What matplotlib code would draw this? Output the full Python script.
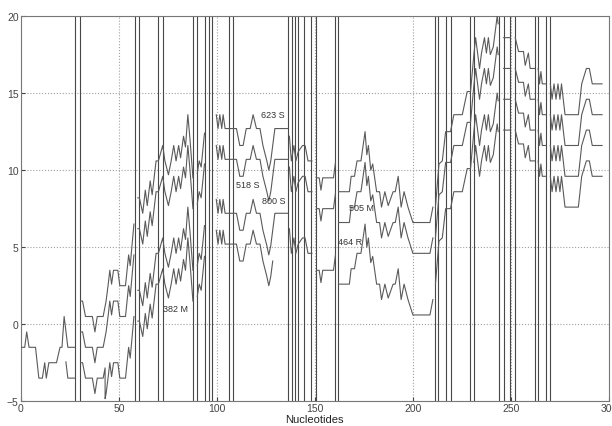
import matplotlib
matplotlib.use("Agg")
import matplotlib.pyplot as plt
import numpy as np

plt.rcParams['font.family'] = ['Liberation Sans', 'DejaVu Sans']

# cumulative walk, vertex by vertex (x in nucleotides, y in walk units)
walk_x = [0.5, 2, 3, 4.2, 7.5, 9.2, 11, 12.2, 13, 14.3, 18.2, 20, 21, 22.1, 24, 27.5,
          30.5, 31.5, 33, 36.5, 37.8, 39, 42, 43.5, 44.5, 45.4, 46.3, 47.3, 49.5, 50.5, 53.4, 55, 55.8, 57.7,
          59.7, 60.5, 62.2, 63.5, 64.5, 66, 67, 69, 70.2, 72.4, 73.5, 75.3, 76.7, 78, 79.2, 80.5, 81.5, 83, 84, 85.2, 86.3, 87.8,
          90, 91, 92, 93.7,
          99.7, 100.6, 101.5, 102.5, 103.2, 104.2, 110, 111.7, 113.4, 115, 117, 118.5, 120.2, 122, 123.5, 125.5, 126.5, 127.5, 128.5, 129.6, 136.2,
          137, 138, 139.3, 140.3, 141.5, 143.7, 145, 146.5, 148.5,
          150.8, 152.2, 153.1, 154, 159.5, 160.5,
          162.1, 167.6, 168.5, 170.2, 171.5, 173.5, 175.6, 176.5, 177.3, 178.5, 179.5, 181.5, 183, 184, 185.7, 187.4, 189.9, 191, 192.5, 194, 195.5, 197.5, 200, 208.7, 210.2,
          211.5, 213.3, 215, 216.7, 219.2, 220.9, 225.2, 227.7, 229.4, 231.1, 232, 233, 234, 235, 236.5, 237.5, 238.5, 239.5, 241, 242, 243, 243.5,
          246.3, 249.7,
          252.2, 253.9, 256.4, 257.3, 258.9, 259.8, 262,
          263.9, 264.6, 265.3, 266, 267.8,
          270.1, 271, 272, 273, 274, 275, 275.8, 277.6, 284.4, 286.1, 288.5, 290, 291.5, 296.5]
walk_y = [-1.5, -1.5, -0.5, -1.5, -1.5, -3.5, -3.5, -2.5, -3.5, -2.5, -2.5, -1.5, -1.5, 0.5, -1.5, -1.5,
          1.5, 1.5, 0.5, 0.5, -0.5, 0.5, 0.5, 1.5, 2.5, 3.5, 2.6, 3.5, 3.5, 2.5, 2.5, 4.5, 3.8, 6.5,
          8.2, 8.2, 7.2, 8.7, 7.7, 9.3, 8.4, 10.6, 10.6, 11.6, 10.6, 9.7, 10.6, 11.6, 10.6, 11.6, 10.8, 12.2, 11.5, 13.6, 12.0, 9.5,
          9.8, 10.6, 10.2, 12.4,
          13.6, 12.7, 13.6, 12.7, 13.6, 12.7, 12.7, 11.6, 11.6, 12.7, 12.7, 13.6, 12.7, 12.7, 11.6, 10.6, 10.0, 10.6, 11.6, 12.7, 12.7,
          12.2, 10.6, 11.6, 10.6, 11.2, 11.6, 11.6, 10.6, 10.6,
          9.5, 9.5, 8.7, 9.5, 9.5, 10.5,
          8.6, 8.6, 9.6, 9.6, 10.6, 10.6, 12.5, 11.0, 11.6, 10.0, 10.4, 8.6, 8.6, 7.6, 8.6, 7.7, 8.6, 8.6, 9.6, 7.6, 8.6, 7.6, 6.6, 6.6, 7.6,
          7.6, 10.4, 10.6, 12.5, 12.5, 13.6, 13.6, 15.1, 15.1, 17.5, 18.6, 17.6, 16.6, 17.6, 18.6, 17.6, 18.6, 17.5, 18.0, 19.0, 20.0, 19.5,
          18.6, 18.6,
          18.6, 17.7, 17.7, 16.8, 17.6, 16.6, 16.6,
          16.6, 15.6, 16.4, 15.6, 15.6,
          15.6, 14.6, 15.6, 14.6, 15.6, 14.6, 15.6, 13.6, 13.6, 15.6, 16.6, 16.6, 15.6, 15.6]

# each sequence: (start, end, level shift) pieces along the walk
seq_1 = [(0.5, 27.5, 0), (30.5, 57.7, 0), (59.7, 87.8, 0), (90, 93.7, 0), (99.7, 136.2, 0),
         (137, 148.5, 0), (150.8, 160.5, 0), (162.1, 210.2, 0), (211.5, 243.5, 0),
         (246.3, 249.7, 0), (252.2, 262, 0), (263.9, 267.8, 0), (270.1, 296.5, 0)]
seq_2 = [(23, 27.5, -2), (30.5, 57.7, -2), (59.7, 87.8, -2), (90, 93.7, -2), (99.7, 136.2, -2),
         (137, 148.5, -2), (150.8, 160.5, -2), (162.1, 210.2, -2), (211.5, 243.5, -2),
         (246.3, 249.7, -2), (252.2, 262, -2), (263.9, 267.8, -2), (270.1, 296.5, -2)]
seq_3 = [(30.5, 43, -4), (43, 57.7, -6), (59.7, 87.8, -6), (90, 93.7, -6), (99.7, 136.2, -5.5),
         (137, 148.5, -6), (150.8, 160.5, -6), (162.1, 210.2, -6), (211.5, 243.5, -5),
         (246.3, 249.7, -4), (252.2, 262, -4), (263.9, 267.8, -4), (270.1, 296.5, -4)]
seq_4 = [(59.7, 87.8, -8), (90, 93.7, -8), (99.7, 128.5, -7.5), (231.1, 243.5, -7),
         (246.3, 249.7, -6), (252.2, 262, -6), (263.9, 267.8, -6), (270.1, 296.5, -6)]

# polymorphic sites
site_x = [27.6, 30.2, 58.1, 60.4, 70.2, 72.4, 87.9, 90.1, 93.8, 96.1, 97.6, 106.2, 108.4,
          136.3, 138.2, 140.0, 141.6, 144.2, 148.1, 150.5, 160.5, 162.0,
          211.2, 213.0, 217.0, 219.6, 229.3, 231.2, 243.7, 246.3, 249.7, 252.2,
          262.1, 263.8, 267.9, 270.1]

isolate_names = ['623 S', '518 S', '800 S', '505 M', '464 R', '382 M']
isolate_x = [128.4, 115.8, 129.2, 174.0, 168.2, 78.8]
isolate_y = [13.6, 9.1, 8.05, 7.6, 5.4, 1.0]

wx = np.array(walk_x)
wy = np.array(walk_y)


def trace_xy(pieces):
    xs, ys = [], []
    prev_end = None
    for x0, x1, shift in pieces:
        if prev_end is not None and x0 - prev_end > 0.01:
            xs.append(np.nan)
            ys.append(np.nan)
        inside = (wx > x0) & (wx < x1)
        xs += [x0] + list(wx[inside]) + [x1]
        ys += [np.interp(x0, wx, wy) + shift] + list(wy[inside] + shift) + [np.interp(x1, wx, wy) + shift]
        prev_end = x1
    return xs, ys


fig = plt.figure(figsize=(6.12, 4.27), dpi=100)
ax = fig.add_axes([0.034, 0.058, 0.961, 0.902])

ax.vlines(site_x, -5, 20, color='#484848', lw=0.8, zorder=2)

for seq in [seq_1, seq_2, seq_3, seq_4]:
    xs, ys = trace_xy(seq)
    ax.plot(xs, ys, color='#5a5a5a', lw=0.8, zorder=3)

for name, tx, ty in zip(isolate_names, isolate_x, isolate_y):
    ax.text(tx, ty, name, fontsize=6.5, color='#333333', ha='center', va='center', zorder=4)

ax.set_xlim(0, 300)
ax.set_ylim(-5, 20)
ax.set_xticks([0, 50, 100, 150, 200, 250, 300])
ax.set_yticks([-5, 0, 5, 10, 15, 20])
ax.grid(True, linestyle=':', color='#a0a0a0', lw=0.8)
ax.set_axisbelow(True)
ax.tick_params(direction='in', length=3, labelsize=7.5, colors='#444444', pad=1.5)
for spine in ax.spines.values():
    spine.set_color('#777777')
    spine.set_linewidth(0.8)
ax.set_xlabel('Nucleotides', fontsize=8, color='#222222')
ax.xaxis.set_label_coords(0.5, -0.034)

fig.savefig('out.png', dpi=100)
